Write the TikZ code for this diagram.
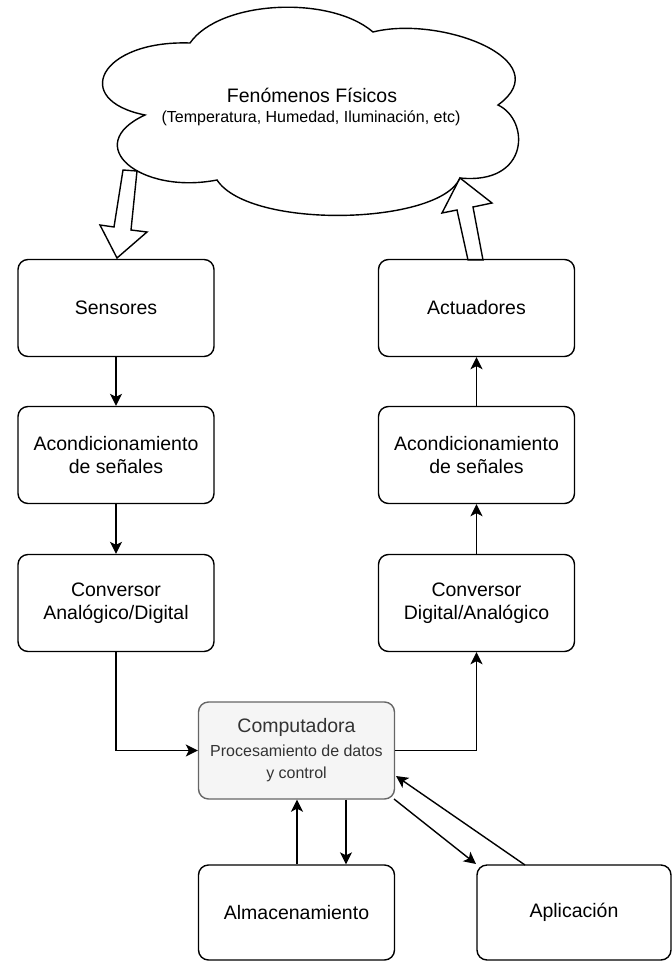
\documentclass[tikz,border=0pt]{standalone}
\usepackage{fontspec}
\setmainfont{Liberation Sans}
\usetikzlibrary{arrows.meta}
\definecolor{compfill}{HTML}{F5F5F5}
\definecolor{compdraw}{HTML}{666666}
\definecolor{comptext}{HTML}{333333}
\tikzset{
  box/.style={draw=black, line width=1.4pt, rounded corners=10pt, minimum width=196pt, minimum height=97pt, align=center, font=\fontsize{19.5}{22.5}\selectfont, inner sep=2pt},
  arr/.style={line width=1.4pt, -{Stealth[length=12pt,width=12pt,inset=3pt]}},
  blockarrow/.style={draw=black, line width=1.4pt, fill=white, line join=miter},
}
\begin{document}
\begin{tikzpicture}[x=1pt,y=-1pt]
\useasboundingbox (0,0) rectangle (672,962);
% cloud
\draw[line width=1.4pt, fill=white] (190,43) .. controls (220,0) and (330,-5) .. (373,32)
  .. controls (440,15) and (560,60) .. (498,105)
  .. controls (530,120) and (530,185) .. (460,178)
  .. controls (440,225) and (250,230) .. (217,180)
  .. controls (140,195) and (80,145) .. (145,115)
  .. controls (70,100) and (100,40) .. (190,43) -- cycle;
\node[font=\fontsize{19.5}{22.5}\selectfont] (cloudt) at (312,95) {Fenómenos Físicos};
\node[font=\fontsize{16}{20}\selectfont] (clouds) at (311,118) {(Temperatura, Humedad, Iluminación, etc)};
% block arrows
\draw[blockarrow] (123,170) -- (137,171) -- (131,230) -- (147,232) -- (117,258) -- (100,225) -- (114,227) -- cycle;
\draw[blockarrow] (460,178) -- (492,203) -- (473,207) -- (483,260) -- (468,260) -- (457,210) -- (442,213) -- cycle;
% boxes
\node[box] (sens) at (116,308) {Sensores};
\node[box] (acL) at (116,455) {Acondicionamiento\\de señales};
\node[box] (convL) at (116,603) {Conversor\\Analógico/Digital};
\node[box] (act) at (476.5,308) {Actuadores};
\node[box] (acR) at (476.5,455) {Acondicionamiento\\de señales};
\node[box] (convR) at (476.5,603) {Conversor\\Digital/Analógico};
\node[box, draw=compdraw, fill=compfill, text=comptext] (comp) at (296.5,750.5) {Computadora\\[1pt]{\fontsize{16}{22}\selectfont Procesamiento de datos}\\{\fontsize{16}{22}\selectfont y control}};
\node[box, minimum height=95pt] (alm) at (296.5,912.5) {Almacenamiento};
\node[box, minimum width=194pt, minimum height=95pt] (apli) at (574,912.5) {Aplicación};
% connectors
\draw[arr] (sens) -- (acL);
\draw[arr] (acL) -- (convL);
\draw[arr] (convL.south) |- (comp.west);
\draw[arr] (comp.east) -| (convR.south);
\draw[arr] (convR) -- (acR);
\draw[arr] (acR) -- (act);
\coordinate (xa) at (297,0);
\coordinate (xb) at (346,0);
\draw[arr] (alm.north -| xa) -- (comp.south -| xa);
\draw[arr] (comp.south -| xb) -- (alm.north -| xb);
\coordinate (c1) at (394,799);
\coordinate (a1) at (476,864);
\draw[arr] (c1) -- (a1);
\coordinate (a2) at (525,865);
\coordinate (c2) at (396,776);
\draw[arr] (a2) -- (c2);
\end{tikzpicture}
\end{document}
